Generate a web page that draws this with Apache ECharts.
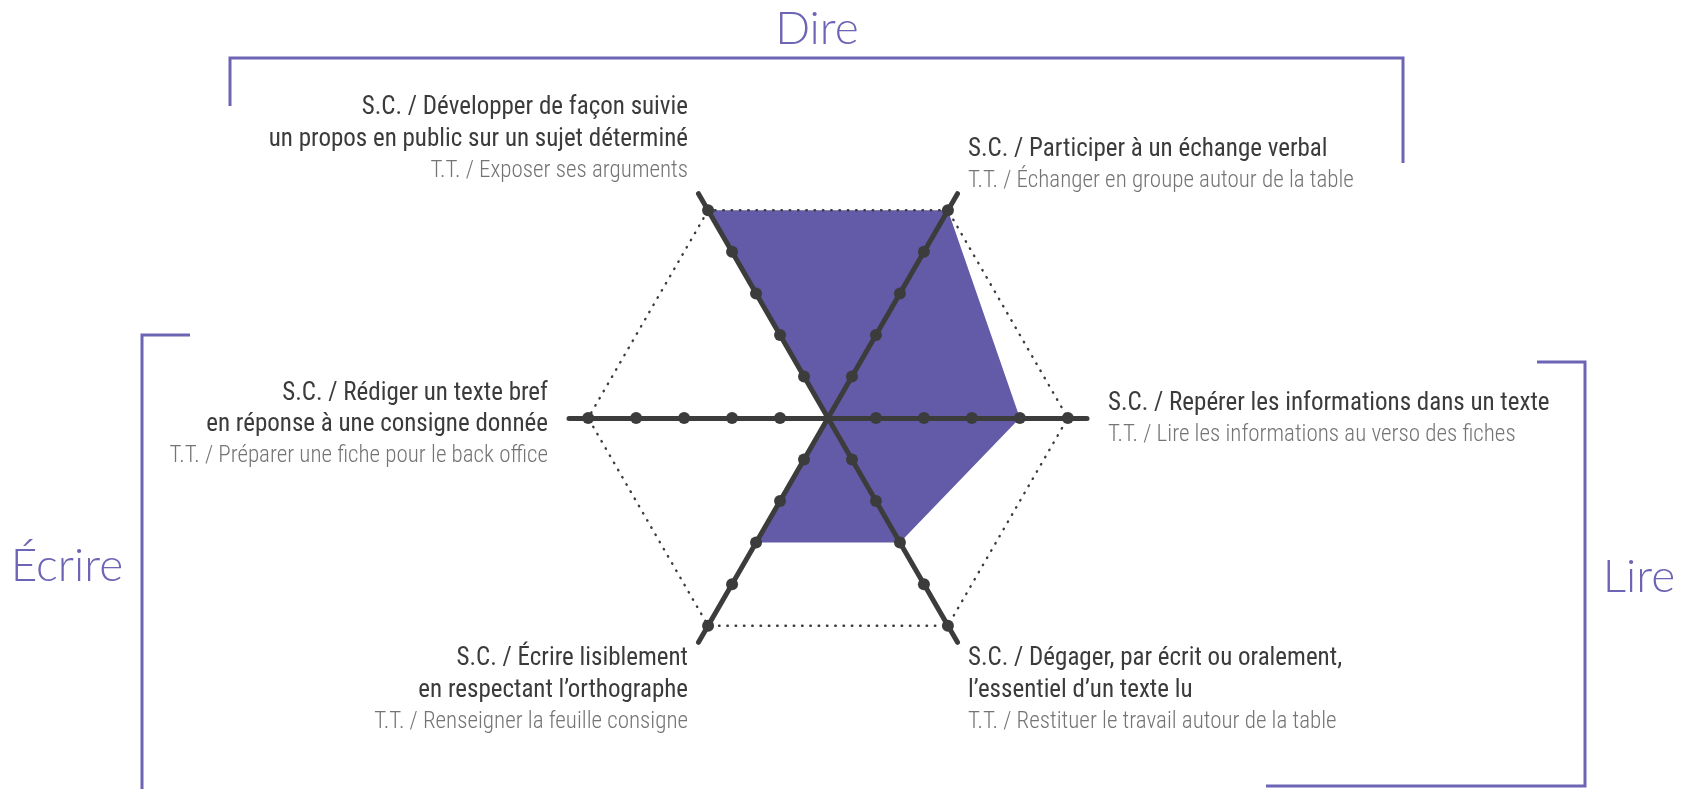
<!DOCTYPE html>
<html>
<head>
<meta charset="utf-8">
<script src="https://cdn.jsdelivr.net/npm/echarts@6/dist/echarts.min.js"></script>
<style>
  html, body { margin: 0; padding: 0; background: #fff; }
  #chart { width: 1691px; height: 789px; }
</style>
</head>
<body>
<div id="chart"></div>
<script>
// indicators, counterclockwise from the top-right axis
var skills = [
  'S.C. / Participer à un échange verbal',
  'S.C. / Développer de façon suivie\nun propos en public sur un sujet déterminé',
  'S.C. / Rédiger un texte bref\nen réponse à une consigne donnée',
  'S.C. / Écrire lisiblement\nen respectant l’orthographe',
  'S.C. / Dégager, par écrit ou oralement,\nl’essentiel d’un texte lu',
  'S.C. / Repérer les informations dans un texte'
];
var tasks = [
  'T.T. / Échanger en groupe autour de la table',
  'T.T. / Exposer ses arguments',
  'T.T. / Préparer une fiche pour le back office',
  'T.T. / Renseigner la feuille consigne',
  'T.T. / Restituer le travail autour de la table',
  'T.T. / Lire les informations au verso des fiches'
];
var scores = [5, 5, 0, 3, 3, 4];
var levels = [1, 2, 3, 4, 5];
var groups = ['Dire', 'Écrire', 'Lire'];

// vertical nudge of each axis name (px, + is down)
var labelShift = [-10, -36, 7, 30, 30, 1];

var purple = '#6c64b4';
var dark = '#3c3c3c';
var labelFont = "'Roboto Condensed', 'Liberation Sans Narrow', 'DejaVu Sans Condensed', sans-serif";
var titleFont = "Lato, Roboto, sans-serif";

var chart = echarts.init(document.getElementById('chart'), null, { renderer: 'canvas' });

var rich = {
  sc: { fontFamily: labelFont, fontSize: 25, color: '#3b3b3b', lineHeight: 31.5 },
  tt: { fontFamily: labelFont, fontSize: 23, fontWeight: 300, color: '#747474', lineHeight: 31.5 }
};
labelShift.forEach(function (s, i) {
  rich['sp' + i] = { fontSize: 1, lineHeight: Math.max(1, Math.abs(s) * 2) };
});

function axisNameFormatter(name) {
  var i = skills.indexOf(name);
  var lines = name.split('\n').map(function (l) { return '{sc|' + l + '}'; });
  lines.push('{tt|' + tasks[i] + '}');
  var s = labelShift[i];
  if (s > 0) lines.unshift('{sp' + i + '| }');
  else if (s < 0) lines.push('{sp' + i + '| }');
  return lines.join('\n');
}

var series = [{
  type: 'radar',
  z: 1,
  symbol: 'none',
  lineStyle: { width: 0 },
  areaStyle: { color: '#635ba8', opacity: 1 },
  data: [{ value: scores }]
}];

levels.forEach(function (lv) {
  var isOuter = lv === levels[levels.length - 1];
  series.push({
    type: 'radar',
    z: 3,
    symbol: 'circle',
    symbolSize: 12,
    itemStyle: { color: dark },
    lineStyle: isOuter
      ? { color: dark, width: 2.4, type: [0.5, 7.8], cap: 'round' }
      : { width: 0, opacity: 0 },
    data: [{ value: skills.map(function () { return lv; }) }]
  });
});

function groupTitle(text, x, y) {
  return {
    type: 'text', silent: true, x: x, y: y,
    style: { text: text, fill: purple, fontSize: 46, fontWeight: 300, fontFamily: titleFont, align: 'center', verticalAlign: 'middle' }
  };
}

function bracket(points) {
  return { type: 'polyline', silent: true, shape: { points: points }, style: { stroke: purple, lineWidth: 3, fill: null } };
}

var option = {
  animation: false,
  radar: {
    z: 2,
    center: [828, 418],
    radius: 259,
    startAngle: 60,
    shape: 'polygon',
    splitNumber: 5,
    axisNameGap: 21,
    indicator: skills.map(function (s) { return { name: s, min: 0, max: 5.4 }; }),
    axisName: { formatter: axisNameFormatter, rich: rich },
    axisLine: { lineStyle: { color: dark, width: 5, cap: 'round' } },
    axisTick: { show: false },
    axisLabel: { show: false },
    splitLine: { show: false },
    splitArea: { show: false }
  },
  graphic: [
    bracket([[230, 106], [230, 58], [1403, 58], [1403, 163]]),
    bracket([[190, 335], [142, 335], [142, 795]]),
    bracket([[1537, 362], [1585, 362], [1585, 786], [1266, 786]]),
    groupTitle(groups[0], 817, 29),
    groupTitle(groups[1], 67, 566),
    groupTitle(groups[2], 1639, 577)
  ],
  series: series
};

chart.setOption(option);
window.addEventListener('resize', chart.resize);
</script>
</body>
</html>
